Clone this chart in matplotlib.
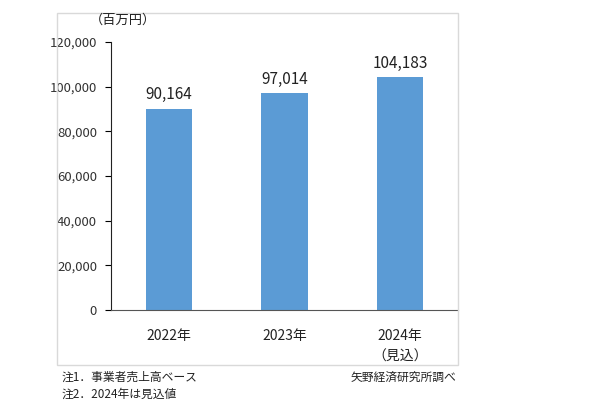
import matplotlib
matplotlib.use('Agg')
import matplotlib.pyplot as plt
from matplotlib.patches import Rectangle

plt.rcParams['font.family'] = ['Noto Sans CJK JP', 'DejaVu Sans']

# data
years = ['2022年', '2023年', '2024年\n（見込）']
values = [90164, 97014, 104183]
yticks = [0, 20000, 40000, 60000, 80000, 100000, 120000]

fig = plt.figure(figsize=(6, 4), dpi=100, facecolor='white')

# light frame round the chart area
fig.patches.append(Rectangle((57 / 600, 1 - 365 / 400), 401 / 600, 352 / 400,
                             transform=fig.transFigure, fill=False,
                             edgecolor='#d9d9d9', linewidth=1))

ax = fig.add_axes([111 / 600, 1 - 310 / 400, 347 / 600, 268 / 400])
x = range(len(years))
bars = ax.bar(x, values, width=0.4, color='#5B9BD5')

ax.set_xlim(-0.5, len(years) - 0.5)
ax.set_ylim(0, 120000)
ax.set_yticks(yticks)
ax.set_yticklabels([f'{v:,}' for v in yticks], fontsize=9.5, color='#333333')
ax.set_xticks(list(x))
ax.set_xticklabels(years, fontsize=10, color='#222222', linespacing=1.6, va='top')
ax.tick_params(axis='x', length=0, pad=14)
ax.tick_params(axis='y', length=4, direction='out', pad=6)

for s in ['top', 'right']:
    ax.spines[s].set_visible(False)
ax.spines['left'].set_color('#222222')
ax.spines['bottom'].set_color('#555555')

for b, v in zip(bars, values):
    ax.text(b.get_x() + b.get_width() / 2, v + 2500, f'{v:,}',
            ha='center', va='bottom', fontsize=11, color='#222222')

fig.text(90 / 600, 1 - 20 / 400, '（百万円）', fontsize=9.5, va='center', color='#222222')
fig.text(62 / 600, 1 - 377 / 400, '注1．事業者売上高ベース', fontsize=8.5, va='center', color='#222222')
fig.text(62 / 600, 1 - 394 / 400, '注2．2024年は見込値', fontsize=8.5, va='center', color='#222222')
fig.text(456 / 600, 1 - 377 / 400, '矢野経済研究所調べ', fontsize=8.5, va='center', ha='right', color='#222222')

fig.savefig('out.png', dpi=100, facecolor='white')
